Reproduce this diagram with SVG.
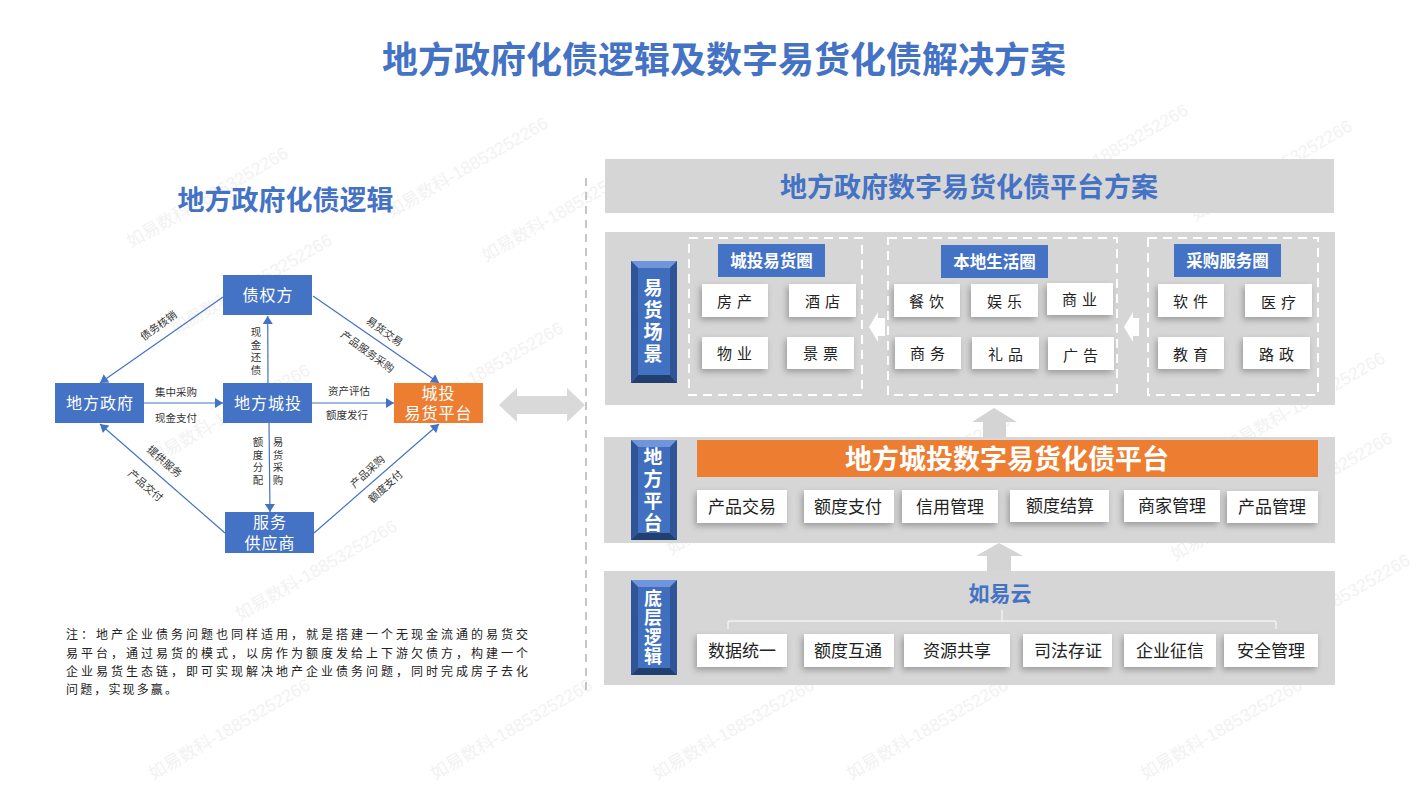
<svg xmlns="http://www.w3.org/2000/svg" width="1416" height="792" viewBox="0 0 1416 792">
<style>
text{font-family:"Noto Sans CJK SC","Noto Sans",sans-serif;text-anchor:middle;dominant-baseline:central}
.wm{font-family:"Liberation Sans","Noto Sans CJK SC",sans-serif;font-size:17.5px;fill:#f2f2f2;text-anchor:start}
.ttl{font-weight:700;fill:#4472c4}
.panel{fill:#d6d6d6}
.node{fill:#4472c4}
.ntx{fill:#fff;font-size:16px;letter-spacing:1px}
.lb{fill:#333;font-size:10.5px}
.vl{writing-mode:vertical-rl;text-orientation:upright;letter-spacing:2.2px}
.conn{fill:none;stroke:#4472c4;stroke-width:1.2;marker-end:url(#ah)}
.card{fill:#fff;filter:url(#sh)}
.c1{fill:#222;font-size:15px;letter-spacing:5px}
.c2{fill:#222;font-size:17px}
.tag{fill:#4472c4}
.tagt{fill:#fff;font-size:16.5px;font-weight:700}
.dash{fill:none;stroke:#fff;stroke-width:2;stroke-dasharray:9 6}
.bvt{fill:#fff;font-size:19px;font-weight:700;writing-mode:vertical-rl;text-orientation:upright;letter-spacing:3px}
.note{fill:#222;font-size:12px;text-anchor:start}
</style>
<defs>
<marker id="ah" markerUnits="userSpaceOnUse" markerWidth="10" markerHeight="10" refX="9" refY="5" orient="auto"><path d="M1 0L9 5L1 10Z" fill="#4472c4"/></marker>
<filter id="sh" x="-20%" y="-20%" width="140%" height="150%"><feDropShadow dx="-2" dy="3" stdDeviation="3" flood-color="#000" flood-opacity=".28"/></filter>
<linearGradient id="bf" x1="0" y1="0" x2="0" y2="1"><stop offset="0" stop-color="#3f6dbc"/><stop offset="1" stop-color="#4272c2"/></linearGradient>
</defs>

<g id="watermarks">
<text class="wm" transform="translate(128,243) rotate(-30)">如易数科-18853252266</text>
<text class="wm" transform="translate(388,213) rotate(-30)">如易数科-18853252266</text>
<text class="wm" transform="translate(483,257) rotate(-30)">如易数科-18853252266</text>
<text class="wm" transform="translate(172,330) rotate(-30)">如易数科-18853252266</text>
<text class="wm" transform="translate(1028,200) rotate(-30)">如易数科-18853252266</text>
<text class="wm" transform="translate(1192,216) rotate(-30)">如易数科-18853252266</text>
<text class="wm" transform="translate(403,418) rotate(-30)">如易数科-18853252266</text>
<text class="wm" transform="translate(150,460) rotate(-30)">如易数科-18853252266</text>
<text class="wm" transform="translate(237,616) rotate(-30)">如易数科-18853252266</text>
<text class="wm" transform="translate(668,550) rotate(-30)">如易数科-18853252266</text>
<text class="wm" transform="translate(850,510) rotate(-30)">如易数科-18853252266</text>
<text class="wm" transform="translate(1172,556) rotate(-30)">如易数科-18853252266</text>
<text class="wm" transform="translate(1225,448) rotate(-30)">如易数科-18853252266</text>
<text class="wm" transform="translate(1232,528) rotate(-30)">如易数科-18853252266</text>
<text class="wm" transform="translate(1250,650) rotate(-30)">如易数科-18853252266</text>
<text class="wm" transform="translate(150,775) rotate(-30)">如易数科-18853252266</text>
<text class="wm" transform="translate(432,775) rotate(-30)">如易数科-18853252266</text>
<text class="wm" transform="translate(654,775) rotate(-30)">如易数科-18853252266</text>
<text class="wm" transform="translate(848,775) rotate(-30)">如易数科-18853252266</text>
<text class="wm" transform="translate(1142,775) rotate(-30)">如易数科-18853252266</text>
</g>

<text class="ttl" x="724" y="57" font-size="36">地方政府化债逻辑及数字易货化债解决方案</text>
<text class="ttl" x="285.5" y="198" font-size="27">地方政府化债逻辑</text>

<g id="connectors">
<path class="conn" d="M223 297L100 383"/>
<path class="conn" d="M268 383L267.7 316"/>
<path class="conn" d="M144 403H223"/>
<path class="conn" d="M312 403H394"/>
<path class="conn" d="M269 423L270 512"/>
<path class="conn" d="M313 296L439 383"/>
<path class="conn" d="M225 533L100 424"/>
<path class="conn" d="M314 533L439 424"/>
</g>

<g id="n-zqf"><rect class="node" x="223" y="275" width="89" height="40"/><text class="ntx" x="268" y="294">债权方</text></g>
<g id="n-dfzf"><rect class="node" x="55" y="383" width="89" height="40"/><text class="ntx" x="100" y="402">地方政府</text></g>
<g id="n-dfct"><rect class="node" x="223" y="383" width="89" height="40"/><text class="ntx" x="268" y="402">地方城投</text></g>
<g id="n-pt"><rect x="394" y="383" width="89" height="40" fill="#ed7d31"/><text class="ntx"><tspan x="438.5" y="392">城投</tspan><tspan x="438.5" y="412">易货平台</tspan></text></g>
<g id="n-fw"><rect class="node" x="225" y="512" width="89" height="41"/><text class="ntx"><tspan x="270" y="521">服务</tspan><tspan x="270" y="542">供应商</tspan></text></g>

<g id="edge-labels">
<text class="lb" transform="translate(158,325) rotate(-36)">债务核销</text>
<text class="lb" transform="translate(385,331) rotate(36)">易货交易</text>
<text class="lb" transform="translate(368,351) rotate(36)">产品服务采购</text>
<text class="lb" transform="translate(165,461) rotate(41)">提供服务</text>
<text class="lb" transform="translate(146,485) rotate(41)">产品交付</text>
<text class="lb" transform="translate(367,471) rotate(-42)">产品采购</text>
<text class="lb" transform="translate(385,486) rotate(-42)">额度支付</text>
<text class="lb" x="176" y="391">集中采购</text>
<text class="lb" x="176" y="417">现金支付</text>
<text class="lb" x="349" y="390">资产评估</text>
<text class="lb" x="347" y="414">额度发行</text>
<text class="lb vl" x="256" y="352">现金还债</text>
<text class="lb vl" x="258" y="462">额度分配</text>
<text class="lb vl" x="278" y="462">易货采购</text>
</g>

<g id="note">
<text class="note" x="66" y="633" textLength="462">注：地产企业债务问题也同样适用，就是搭建一个无现金流通的易货交</text>
<text class="note" x="66" y="652" textLength="462">易平台，通过易货的模式，以房作为额度发给上下游欠债方，构建一个</text>
<text class="note" x="66" y="670" textLength="462">企业易货生态链，即可实现解决地产企业债务问题，同时完成房子去化</text>
<text class="note" x="66" y="688" textLength="111">问题，实现多赢。</text>
</g>

<path id="divider" d="M586 178V690" fill="none" stroke="#b4b4b4" stroke-width="1.5" stroke-dasharray="8 6"/>
<path id="double-arrow" d="M499 405L517 388V396H567V388L585 405L567 422V414H517V422Z" fill="#d9d9d9"/>

<g id="header"><rect class="panel" x="605" y="159" width="729" height="54"/><text class="ttl" x="969" y="185.500" font-size="27">地方政府数字易货化债平台方案</text></g>

<rect class="panel" x="605" y="232" width="730" height="173"/>
<rect class="panel" x="604" y="437" width="731" height="106"/>
<rect class="panel" x="604" y="571" width="731" height="114"/>

<path id="arrow-up-1" d="M994 408L1017 422H1006V437H983V422H972Z" fill="#d4d4d4"/>
<path id="arrow-up-2" d="M999 543L1023 556H1011V571H987V556H976Z" fill="#d4d4d4"/>

<g id="bevel-1">
<rect x="631" y="261" width="46" height="122" fill="url(#bf)"/>
<path d="M631 261H677L670 268H638Z" fill="#6f95dc"/><path d="M631 383H677L670 375H638Z" fill="#21406f"/><path d="M631 261L638 268V375L631 383Z" fill="#2f5597"/><path d="M677 261L670 268V375L677 383Z" fill="#2f5597"/>
<text class="bvt" x="653" y="322">易货场景</text>
</g>
<g id="bevel-2">
<rect x="631" y="440" width="46" height="100" fill="url(#bf)"/>
<path d="M631 440H677L670 447H638Z" fill="#6f95dc"/><path d="M631 540H677L670 533H638Z" fill="#21406f"/><path d="M631 440L638 447V533L631 540Z" fill="#2f5597"/><path d="M677 440L670 447V533L677 540Z" fill="#2f5597"/>
<text class="bvt" x="653" y="491">地方平台</text>
</g>
<g id="bevel-3">
<rect x="631" y="580" width="46" height="95" fill="url(#bf)"/>
<path d="M631 580H677L670 587H638Z" fill="#6f95dc"/><path d="M631 675H677L670 668H638Z" fill="#21406f"/><path d="M631 580L638 587V668L631 675Z" fill="#2f5597"/><path d="M677 580L670 587V668L677 675Z" fill="#2f5597"/>
<text class="bvt" x="653" y="628" style="font-size:18px;letter-spacing:1.500px">底层逻辑</text>
</g>

<rect class="dash" x="689" y="238" width="173" height="157"/>
<rect class="dash" x="888" y="238" width="229" height="157"/>
<rect class="dash" x="1148" y="238" width="170" height="157"/>

<g id="tag-1"><rect class="tag" x="718" y="244" width="107" height="33"/><text class="tagt" x="771.5" y="260">城投易货圈</text></g>
<g id="tag-2"><rect class="tag" x="941" y="245" width="107" height="33"/><text class="tagt" x="994.5" y="261">本地生活圈</text></g>
<g id="tag-3"><rect class="tag" x="1174" y="244" width="107" height="33"/><text class="tagt" x="1227.5" y="260">采购服务圈</text></g>

<g id="c-fc"><rect class="card" x="702" y="284" width="66" height="33"/><text class="c1" x="737" y="300">房产</text></g>
<g id="c-jd"><rect class="card" x="789" y="284" width="67" height="33"/><text class="c1" x="825" y="300">酒店</text></g>
<g id="c-wy"><rect class="card" x="702" y="337" width="66" height="32"/><text class="c1" x="737" y="352">物业</text></g>
<g id="c-jp"><rect class="card" x="787" y="337" width="67" height="32"/><text class="c1" x="823" y="352">景票</text></g>
<g id="c-cy"><rect class="card" x="894" y="284" width="66" height="33"/><text class="c1" x="929" y="300">餐饮</text></g>
<g id="c-yl"><rect class="card" x="971" y="284" width="67" height="33"/><text class="c1" x="1007" y="300">娱乐</text></g>
<g id="c-sy"><rect class="card" x="1047" y="283" width="66" height="32"/><text class="c1" x="1082" y="298">商业</text></g>
<g id="c-sw"><rect class="card" x="895" y="337" width="66" height="32"/><text class="c1" x="930" y="352">商务</text></g>
<g id="c-lp"><rect class="card" x="972" y="337" width="67" height="32"/><text class="c1" x="1008" y="353">礼品</text></g>
<g id="c-gg"><rect class="card" x="1048" y="337" width="66" height="33"/><text class="c1" x="1083" y="354">广告</text></g>
<g id="c-rj"><rect class="card" x="1158" y="284" width="66" height="33"/><text class="c1" x="1193" y="300">软件</text></g>
<g id="c-yy"><rect class="card" x="1245" y="284" width="67" height="33"/><text class="c1" x="1281" y="301">医疗</text></g>
<g id="c-jy"><rect class="card" x="1158" y="337" width="66" height="32"/><text class="c1" x="1193" y="353">教育</text></g>
<g id="c-lz"><rect class="card" x="1243" y="337" width="67" height="32"/><text class="c1" x="1279" y="353">路政</text></g>

<path id="white-arrow-1" d="M869 327L878 312V318H885V336H878V342Z" fill="#fff"/>
<path id="white-arrow-2" d="M1124 327L1133 312V318H1139V336H1133V342Z" fill="#fff"/>

<g id="platform-bar"><rect x="697" y="440" width="621" height="37" fill="#ed7d31"/><text x="1007" y="457.500" font-size="27" font-weight="700" fill="#fff">地方城投数字易货化债平台</text></g>

<g id="p1"><rect class="card" x="697" y="490" width="90" height="33"/><text class="c2" x="742" y="505.500">产品交易</text></g>
<g id="p2"><rect class="card" x="804" y="490" width="90" height="33"/><text class="c2" x="848" y="505.500">额度支付</text></g>
<g id="p3"><rect class="card" x="902" y="490" width="96" height="33"/><text class="c2" x="950" y="505.500">信用管理</text></g>
<g id="p4"><rect class="card" x="1010" y="490" width="99" height="32"/><text class="c2" x="1060" y="504">额度结算</text></g>
<g id="p5"><rect class="card" x="1124" y="490" width="96" height="32"/><text class="c2" x="1172" y="504">商家管理</text></g>
<g id="p6"><rect class="card" x="1227" y="491" width="91" height="32"/><text class="c2" x="1272" y="505.500">产品管理</text></g>

<text class="ttl" x="1000" y="591.500" font-size="21">如易云</text>
<path id="bracket" d="M728 629V623Q728 621 730 621H1274Q1276 621 1276 623V629M1002 610V621" fill="none" stroke="#f4f4f4" stroke-width="1.3"/>

<g id="b1"><rect class="card" x="697" y="634" width="90" height="33"/><text class="c2" x="742" y="649.500">数据统一</text></g>
<g id="b2"><rect class="card" x="804" y="634" width="90" height="33"/><text class="c2" x="848" y="649.500">额度互通</text></g>
<g id="b3"><rect class="card" x="904" y="634" width="106" height="33"/><text class="c2" x="957" y="649.500">资源共享</text></g>
<g id="b4"><rect class="card" x="1023" y="634" width="89" height="33"/><text class="c2" x="1068" y="649.500">司法存证</text></g>
<g id="b5"><rect class="card" x="1124" y="634" width="92" height="33"/><text class="c2" x="1170" y="649.500">企业征信</text></g>
<g id="b6"><rect class="card" x="1224" y="634" width="94" height="33"/><text class="c2" x="1271" y="649.500">安全管理</text></g>
</svg>
